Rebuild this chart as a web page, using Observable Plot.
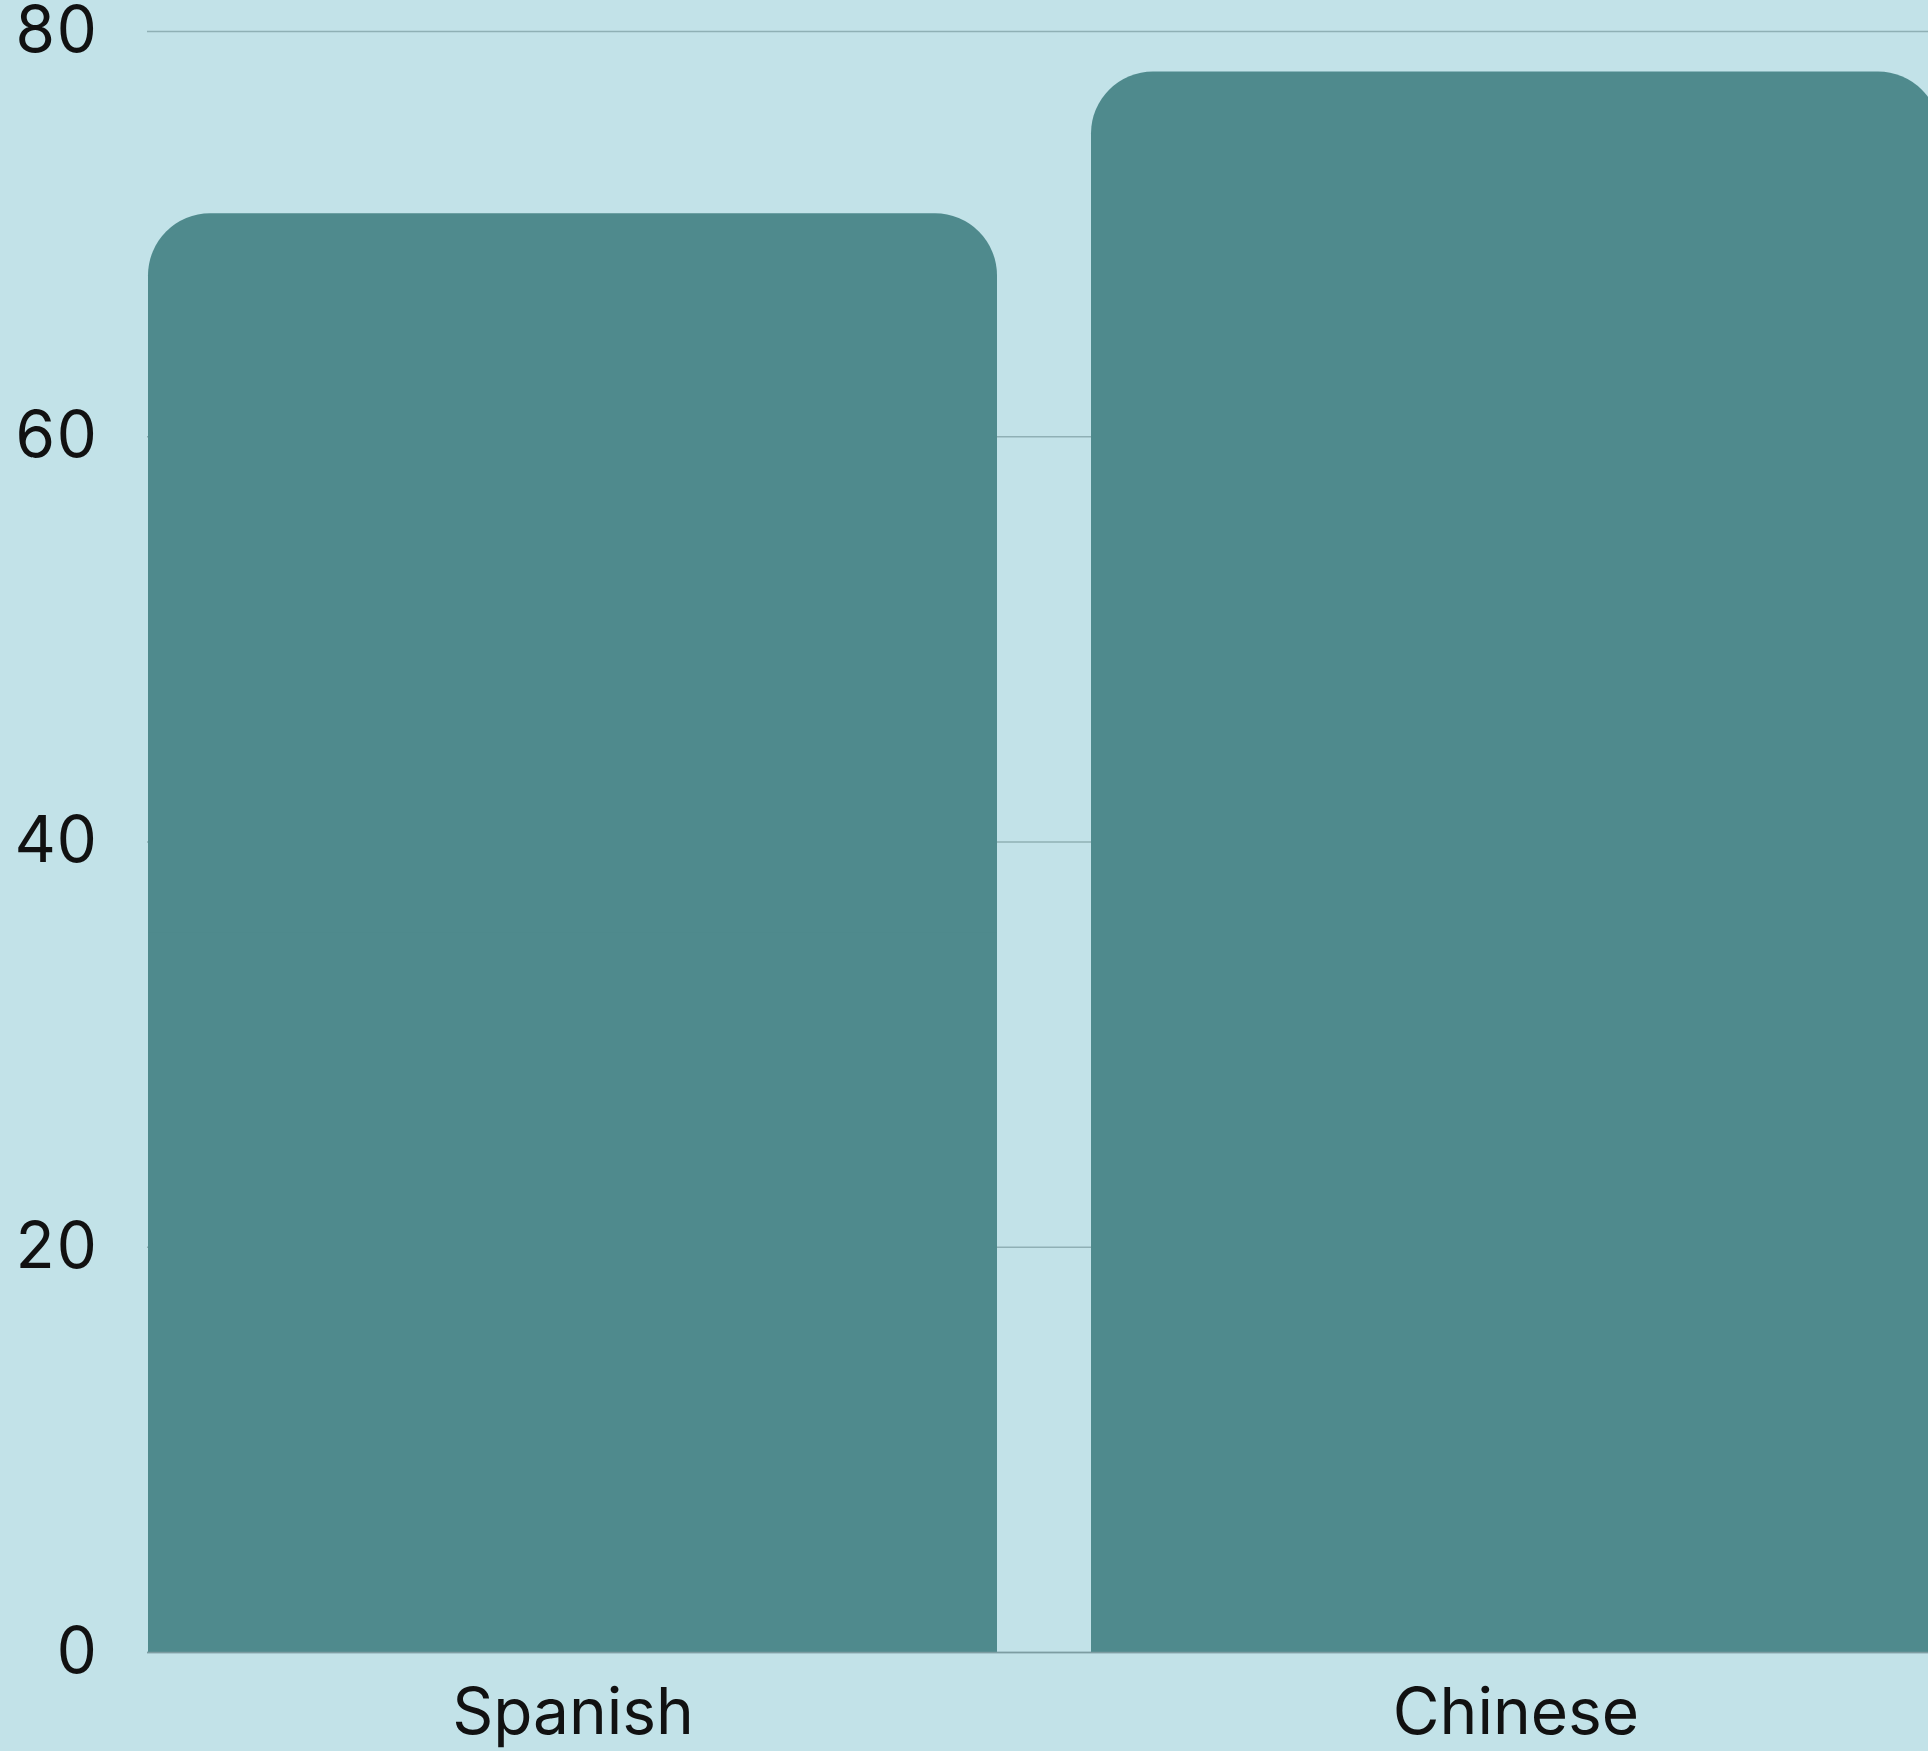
<!DOCTYPE html>
<html>
<head>
<meta charset="utf-8">
<script src="https://cdn.jsdelivr.net/npm/d3@7"></script>
<script src="https://cdn.jsdelivr.net/npm/@observablehq/plot@0.6"></script>
<style>
  html, body { margin: 0; padding: 0; background: #c2e2e8; overflow: hidden; }
  #chart svg { display: block; overflow: hidden; }
</style>
</head>
<body>
<div id="chart"></div>
<script>
const languages = ["Spanish", "Chinese"];
const values = [71, 78];
const yTicks = [0, 20, 40, 60, 80];

const data = languages.map((name, i) => ({ name, value: values[i] }));

const plot = Plot.plot({
  width: 1928,
  height: 1751,
  marginLeft: 147,
  marginRight: 0,
  marginTop: 31,
  marginBottom: 99,
  style: {
    background: "#c2e2e8",
    fontFamily: "Inter, 'Open Sans', sans-serif",
    fontSize: "64px",
    color: "#111111"
  },
  x: { domain: languages, range: [147, 1940], paddingInner: 0.1, paddingOuter: 0, label: null },
  y: { domain: [0, 80], ticks: yTicks, label: null },
  marks: [
    Plot.gridY(yTicks, { stroke: "#8fb0b5", strokeOpacity: 1, strokeWidth: 1.5 }),
    Plot.barY(data, { x: "name", y: "value", fill: "#4f8a8d", rx: 62, inset: 0 }),
    Plot.barY(data, { x: "name", y: d => d.value / 2, fill: "#4f8a8d", inset: 0 }),
    Plot.ruleY([0], { stroke: "#7d9da2", strokeWidth: 1.5 }),
    Plot.axisY(yTicks, { tickSize: 0, tickPadding: 50, fontSize: 64, label: null, fill: "#111111" }),
    Plot.axisX({ tickSize: 0, tickPadding: 36, fontSize: 64, label: null, fill: "#111111" })
  ]
});
document.getElementById("chart").appendChild(plot);
</script>
</body>
</html>
